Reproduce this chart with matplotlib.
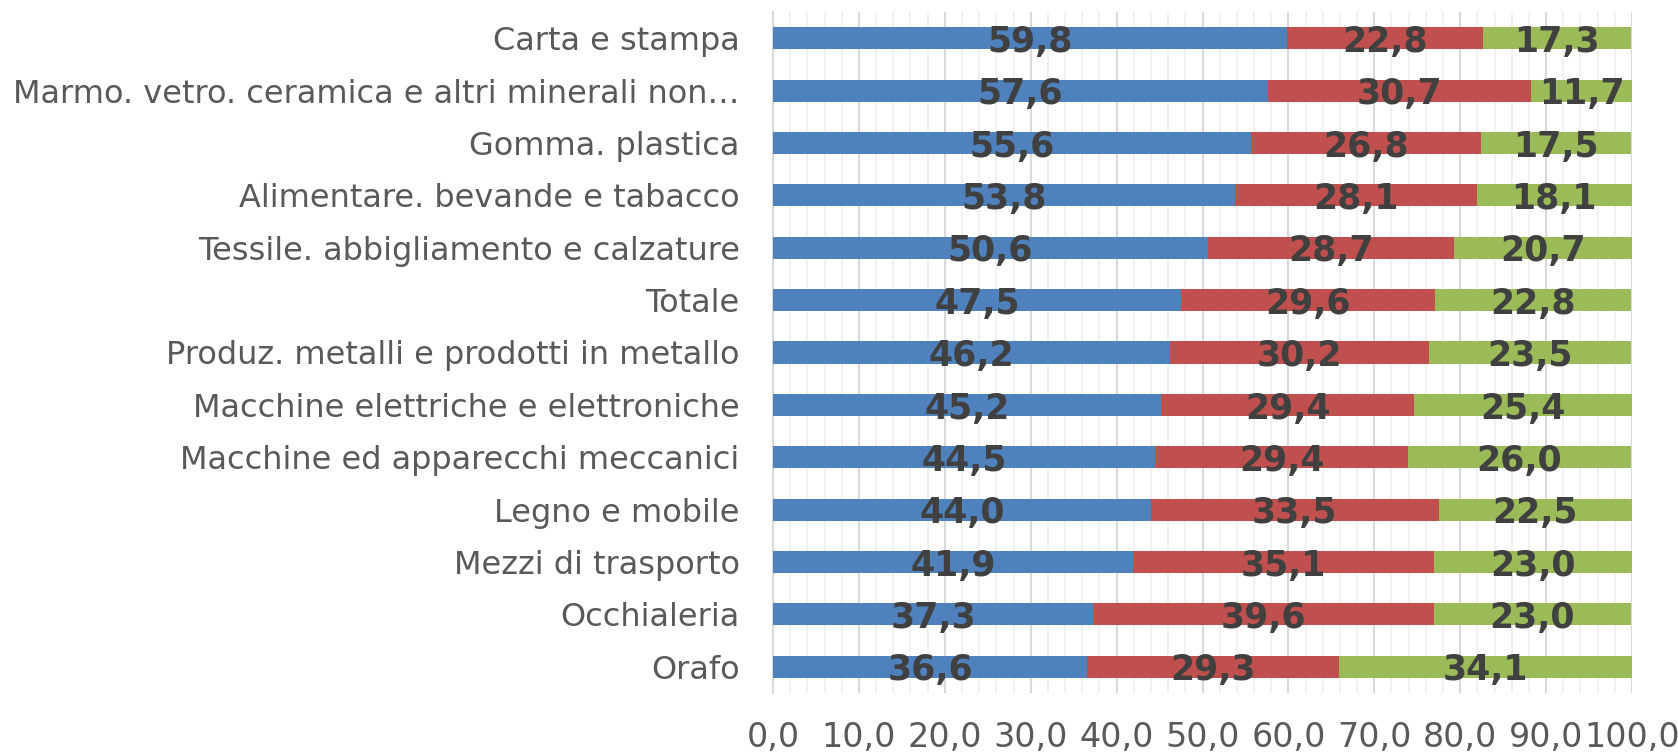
import matplotlib.pyplot as plt
from matplotlib.ticker import MultipleLocator, FuncFormatter

# dati (quote percentuali)
settori = ["Carta e stampa",
           "Marmo. vetro. ceramica e altri minerali non…",
           "Gomma. plastica",
           "Alimentare. bevande e tabacco",
           "Tessile. abbigliamento e calzature",
           "Totale",
           "Produz. metalli e prodotti in metallo",
           "Macchine elettriche e elettroniche",
           "Macchine ed apparecchi meccanici",
           "Legno e mobile",
           "Mezzi di trasporto",
           "Occhialeria",
           "Orafo"]
serie_blu = [59.8, 57.6, 55.6, 53.8, 50.6, 47.5, 46.2, 45.2, 44.5, 44.0, 41.9, 37.3, 36.6]
serie_rossa = [22.8, 30.7, 26.8, 28.1, 28.7, 29.6, 30.2, 29.4, 29.4, 33.5, 35.1, 39.6, 29.3]
serie_verde = [17.3, 11.7, 17.5, 18.1, 20.7, 22.8, 23.5, 25.4, 26.0, 22.5, 23.0, 23.0, 34.1]

colori = ["#4F81BD", "#C0504D", "#9BBB59"]

plt.rcParams['font.family'] = ['DejaVu Sans']

fig = plt.figure(figsize=(16.78, 7.53), dpi=100)
ax = fig.add_axes([773 / 1678, 1 - 693 / 753, (1632 - 773) / 1678, (693 - 12) / 753])

y = list(range(len(settori)))
sinistra = [0.0] * len(settori)
for valori, colore in zip([serie_blu, serie_rossa, serie_verde], colori):
    ax.barh(y, valori, left=sinistra, height=0.42, color=colore, zorder=3)
    for i, v in enumerate(valori):
        ax.text(sinistra[i] + v / 2, i + 0.07, f"{v:.1f}".replace(".", ","),
                ha="center", va="center", fontsize=25, fontweight="bold",
                color="#404040", zorder=4)
    sinistra = [s + v for s, v in zip(sinistra, valori)]

ax.set_xlim(0, 100)
ax.set_ylim(len(settori) - 0.5, -0.5)
ax.set_yticks(y)
ax.set_yticklabels(settori, fontsize=23, color="#595959")
ax.xaxis.set_major_locator(MultipleLocator(10))
ax.xaxis.set_minor_locator(MultipleLocator(2))
ax.xaxis.set_major_formatter(FuncFormatter(lambda x, p: f"{x:.1f}".replace(".", ",")))
ax.tick_params(axis="x", labelsize=24, labelcolor="#595959", length=0, which="both", pad=20)
ax.tick_params(axis="y", length=0, pad=24)
ax.grid(axis="x", which="major", color="#D9D9D9", linewidth=1.5, zorder=0)
ax.grid(axis="x", which="minor", color="#EFEFEF", linewidth=1.2, zorder=0)
for lato in ["top", "right", "bottom"]:
    ax.spines[lato].set_visible(False)
ax.spines["left"].set_color("#D9D9D9")
ax.spines["left"].set_linewidth(1.5)

fig.savefig("out.png", dpi=100)
